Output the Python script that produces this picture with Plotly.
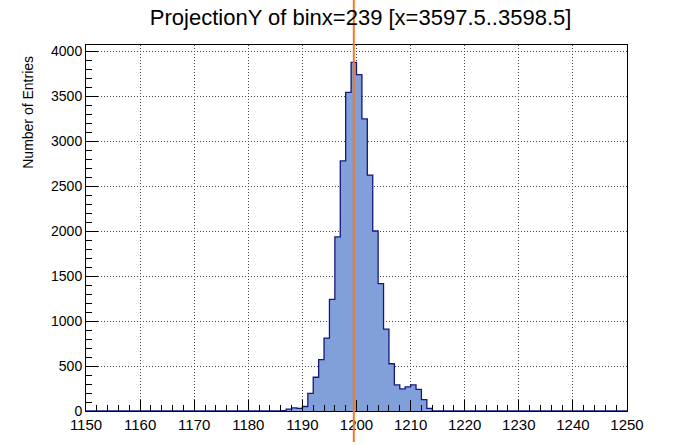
import plotly.graph_objects as go

# Data (bin low edges, width 1)
bin_low = list(range(1186, 1214))
counts = [5, 20, 35, 30, 50, 195, 375, 570, 810, 1240, 1935, 2780, 3540, 3873,
          3737, 3245, 2620, 2000, 1415, 910, 525, 290, 245, 268, 290, 240, 126, 30]
x_range = [1150, 1250]
y_max = 4067
marker_x = 1199.5
title_text = "ProjectionY of binx=239 [x=3597.5..3598.5]"
y_title = "Number of Entries"

centers = [b + 0.5 for b in bin_low]
edges = [x_range[0]] + bin_low + [bin_low[-1] + 1, x_range[1]]
step_y = [0] + counts + [0, 0]

fig = go.Figure()
fig.add_trace(go.Bar(x=centers, y=counts, width=1,
                     marker=dict(color="rgb(129,160,217)", line=dict(width=0)),
                     showlegend=False, hoverinfo="skip"))
fig.add_trace(go.Scatter(x=edges, y=step_y, mode="lines",
                         line=dict(shape="hv", color="rgb(20,24,128)", width=1.3),
                         showlegend=False, hoverinfo="skip"))

fig.add_shape(type="line", xref="x", yref="paper", x0=marker_x, x1=marker_x,
              y0=-0.085, y1=1.125, line=dict(color="rgb(242,120,40)", width=2))

font_family = "Liberation Sans, Arial, sans-serif"
fig.update_layout(
    width=674, height=445,
    margin=dict(l=86, r=47, t=45, b=29),
    paper_bgcolor="white", plot_bgcolor="white",
    bargap=0,
    font=dict(family=font_family, color="black"),
    title=dict(text=title_text, x=0.535, xanchor="center", y=0.962, yanchor="middle",
               font=dict(size=22, family=font_family, color="black")),
    xaxis=dict(range=x_range, dtick=10, tick0=1150, ticks="inside", ticklen=11,
               tickwidth=1, tickcolor="black",
               minor=dict(dtick=2, ticks="inside", ticklen=6, tickcolor="black", showgrid=False),
               showgrid=True, gridcolor="#444", griddash="1px,2px", gridwidth=1,
               showline=True, linecolor="black", linewidth=1, mirror=True,
               zeroline=False, tickfont=dict(size=15, family=font_family)),
    yaxis=dict(range=[0, y_max], dtick=500, tick0=0, ticks="inside", ticklen=12,
               tickwidth=1, tickcolor="black",
               minor=dict(dtick=100, ticks="inside", ticklen=6, tickcolor="black", showgrid=False),
               showgrid=True, gridcolor="#444", griddash="1px,2px", gridwidth=1,
               showline=True, linecolor="black", linewidth=1, mirror=True,
               zeroline=False, tickfont=dict(size=14, family=font_family)),
)

fig.add_annotation(text=y_title, xref="paper", yref="paper", x=-0.107, y=0.975,
                   xanchor="center", yanchor="top", textangle=-90, showarrow=False,
                   font=dict(size=14, family=font_family, color="black"))

fig.write_html("out.html")
